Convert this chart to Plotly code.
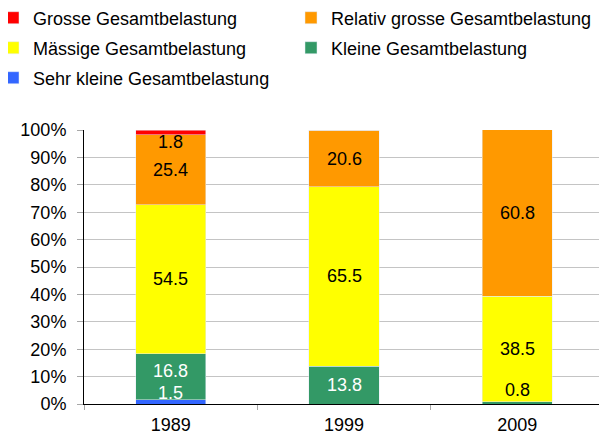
import plotly.graph_objects as go

years = ["1989", "1999", "2009"]
series_names = [
    "Sehr kleine Gesamtbelastung",
    "Kleine Gesamtbelastung",
    "Mässige Gesamtbelastung",
    "Relativ grosse Gesamtbelastung",
    "Grosse Gesamtbelastung",
]
sehr_klein = [1.5, 0.0, 0.0]
klein = [16.8, 13.8, 0.8]
maessig = [54.5, 65.5, 38.5]
relativ_gross = [25.4, 20.6, 60.8]
gross = [1.8, 0.0, 0.0]
y_ticks = [0, 10, 20, 30, 40, 50, 60, 70, 80, 90, 100]
y_tick_text = [f"{t}%" for t in y_ticks]

values = [sehr_klein, klein, maessig, relativ_gross, gross]
colors = ["#3366FF", "#339966", "#FFFF00", "#FF9900", "#FF0000"]
label_colors = ["white", "white", "black", "black", "black"]
legend_ids = ["legend5", "legend4", "legend3", "legend2", "legend"]
# pixel nudges for labels of thin segments (series index, category index) -> yshift
label_shift = {(0, 0): 9, (1, 0): 6, (4, 0): -10, (1, 2): 13}
label_color_override = {(1, 2): "black"}

xpos = list(range(len(years)))

fig = go.Figure()
for name, vals, col, lg in zip(series_names, values, colors, legend_ids):
    fig.add_trace(go.Bar(
        x=xpos, y=vals, name=name, marker=dict(color=col),
        legend=lg,
    ))

font = "Liberation Sans, Arial, sans-serif"
FS = 18
base = [0.0] * len(years)
for si, vals in enumerate(values):
    for ci, v in enumerate(vals):
        if v > 0:
            fig.add_annotation(
                x=xpos[ci], y=base[ci] + v / 2, text=f"{v:.1f}",
                showarrow=False, yshift=label_shift.get((si, ci), 0),
                font=dict(family=font, size=FS,
                          color=label_color_override.get((si, ci), label_colors[si])),
            )
        base[ci] += v

# the page body adds an 8px offset, so the figure is 8px smaller than the window
OFF = 8
W, H = 607 - OFF, 432 - OFF
L, R, T, B = 84 - OFF, 3, 130 - OFF, 28
PW, PH = W - L - R, H - T - B

def legend_cfg(xpix, ypix):
    # xpix: left of legend text, ypix: vertical centre of the row (window pixels)
    xpix -= OFF
    ypix -= OFF
    return dict(
        orientation="h",
        x=(xpix - 40 - L) / PW, xref="paper", xanchor="left",
        y=(H - B - ypix) / PH, yref="paper", yanchor="middle",
        font=dict(family=font, size=FS),
        bgcolor="rgba(0,0,0,0)",
    )

fig.update_layout(
    barmode="stack",
    bargap=0.596,
    width=W, height=H,
    margin=dict(l=L, r=R, t=T, b=B, autoexpand=False),
    paper_bgcolor="white", plot_bgcolor="white",
    font=dict(family=font, size=FS, color="black"),
    legend=legend_cfg(33, 18),
    legend2=legend_cfg(331, 18),
    legend3=legend_cfg(33, 48),
    legend4=legend_cfg(331, 48),
    legend5=legend_cfg(33, 78),
    showlegend=True,
)
fig.update_yaxes(
    range=[0, 100], tickvals=y_ticks, ticktext=y_tick_text,
    showgrid=True, gridcolor="#C4C4C4", gridwidth=1,
    showline=True, linecolor="black", linewidth=1,
    ticks="outside", ticklen=6, tickcolor="#A8A8A8",
    ticklabelstandoff=7,
    tickfont=dict(family=font, size=FS), zeroline=False,
)
fig.update_xaxes(
    range=[-0.5, len(years) - 0.5], tickvals=xpos, ticktext=years,
    showline=True, linecolor="black", linewidth=1,
    ticks="", tickfont=dict(family=font, size=FS), showgrid=False,
    ticklabelstandoff=4,
    minor=dict(tickvals=[i - 0.5 for i in range(len(years) + 1)],
               ticks="outside", ticklen=5, tickcolor="#A8A8A8", showgrid=False),
)

fig.write_html("out.html")
